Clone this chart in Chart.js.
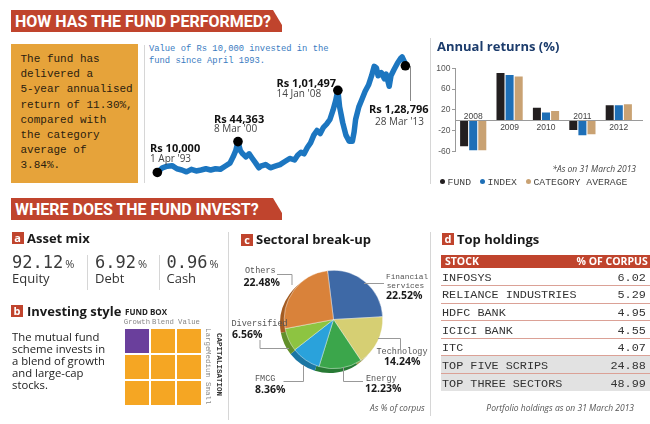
<!DOCTYPE html>
<html><head><meta charset="utf-8">
<script src="https://cdn.jsdelivr.net/npm/chart.js@4.4.1/dist/chart.umd.min.js"></script>
<style>
*{box-sizing:border-box}
html,body{margin:0;padding:0;background:#fff;width:650px;height:424px;overflow:hidden}
#root{position:relative;width:650px;height:424px;font-family:"Open Sans",sans-serif;color:#222}
.a{position:absolute;white-space:nowrap}
.banner{position:absolute;left:11px;width:271px;height:22px;background:#c0442d;clip-path:polygon(0 0,262px 0,271px 15px,271px 22px,0 22px);color:#fff;font-family:Roboto,sans-serif;font-weight:700;font-size:16px;line-height:23px;padding-left:4px}
.vl{position:absolute;width:1px;background:#d6d6d6}
.icon{position:absolute;width:12px;height:12px;background:#c0442d;color:#fff;font:bold 11px/11px "Open Sans",sans-serif;text-align:center}
.h{position:absolute;font-weight:700;font-size:13px;line-height:16px;color:#1a1a1a;white-space:nowrap}
.mono{font-family:"Liberation Mono",monospace}
.rs{font:bold 11px/12px "Open Sans",sans-serif;color:#111}
.dt{font:10px/12px "Open Sans",sans-serif;color:#444}
.pl{font-family:"Liberation Mono",monospace;font-size:8.5px;line-height:11px;color:#555}
.pp{font:bold 10.5px/11px "Open Sans",sans-serif;color:#1a1a1a}
canvas{position:absolute}
table{border-collapse:collapse}
</style></head>
<body><div id="root">

<div class="banner" style="top:10px">HOW HAS THE FUND PERFORMED?</div>
<div class="banner" style="top:198px">WHERE DOES THE FUND INVEST?</div>

<!-- top left box -->
<div class="a mono" style="left:11px;top:44px;width:127px;height:139px;background:#e6a33a;color:#2a200f;font-size:11px;line-height:15.2px;padding:8px 0 0 9.5px;white-space:normal">The fund has<br>delivered a<br>5-year annualised<br>return of 11.30%,<br>compared with<br>the category<br>average of<br>3.84%.</div>
<div class="vl" style="left:144px;top:45px;height:138px"></div>
<div class="vl" style="left:430px;top:38px;height:146px"></div>

<!-- line chart -->
<div class="a mono" style="left:149px;top:44px;font-size:8.8px;line-height:11.7px;color:#3a7bbf">Value of Rs 10,000 invested in the<br>fund since April 1993.</div>
<canvas id="cLine" width="267" height="145" style="left:148px;top:40px;width:267px;height:145px"></canvas>
<svg class="a" style="left:0;top:0" width="650" height="424"><line x1="410.5" y1="66" x2="410.5" y2="101" stroke="#888" stroke-width="1"/></svg>
<div class="a rs" style="left:150px;top:142px">Rs 10,000</div>
<div class="a dt" style="left:150px;top:152px">1 Apr '93</div>
<div class="a rs" style="left:214px;top:113px">Rs 44,363</div>
<div class="a dt" style="left:214px;top:122px">8 Mar '00</div>
<div class="a rs" style="left:276.5px;top:76.5px">Rs 1,01,497</div>
<div class="a dt" style="left:276.5px;top:87px">14 Jan '08</div>
<div class="a rs" style="left:369px;top:103px">Rs 1,28,796</div>
<div class="a dt" style="left:375px;top:114.5px">28 Mar '13</div>

<!-- annual returns -->
<div class="h" style="left:437px;top:38px;color:#1c3c6c">Annual returns (%)</div>
<canvas id="cBar" width="215" height="100" style="left:430px;top:58px;width:215px;height:100px"></canvas>
<div class="a" style="right:14px;top:163px;font:italic 8.5px/12px 'Open Sans',sans-serif;color:#444">*As on 31 March 2013</div>
<div class="a mono" id="legend" style="left:440px;top:177px;font-size:9.8px;line-height:12px;color:#444"></div>

<!-- asset mix -->
<div class="icon" style="left:11.5px;top:232px">a</div>
<div class="h" style="left:27px;top:230px">Asset mix</div>
<div id="assets"></div>
<div class="vl" style="left:87px;top:255px;height:35px"></div>
<div class="vl" style="left:159px;top:255px;height:35px"></div>
<div class="vl" style="left:228px;top:232px;height:188px"></div>
<div class="vl" style="left:430px;top:232px;height:184px"></div>

<!-- investing style -->
<div class="icon" style="left:11px;top:305px">b</div>
<div class="h" style="left:27px;top:303px">Investing style</div>
<div class="a" style="left:125px;top:306px;font:bold 8px/11px 'Open Sans',sans-serif;color:#222">FUND BOX</div>
<div class="a" style="left:12px;top:330.5px;font-size:11.3px;line-height:12.2px;color:#222">The mutual fund<br>scheme invests in<br>a blend of growth<br>and large-cap<br>stocks.</div>
<div id="fundbox"></div>

<!-- sectoral -->
<div class="icon" style="left:241px;top:233.5px">c</div>
<div class="h" style="left:256px;top:231px">Sectoral break-up</div>
<canvas id="cPieS" width="103" height="103" style="left:278px;top:272px;width:103px;height:103px"></canvas>
<canvas id="cPie" width="103" height="103" style="left:282px;top:268px;width:103px;height:103px"></canvas>
<svg class="a" style="left:0;top:0" width="650" height="424" fill="none" stroke="#999" stroke-width="1">
<polyline points="277,274.5 292,274.5 292,285"/>
<polyline points="364,283.5 384,283.5"/>
<polyline points="260,340 260,348.5 289,348.5"/>
<polyline points="378,338.5 400.5,338.5 400.5,349"/>
<polyline points="343.5,367 343.5,381.5 363,381.5"/>
<polyline points="283.5,381.5 303.5,381.5 303.5,365"/>
</svg>
<div class="a pl" style="left:245px;top:266.2px">Others</div>
<div class="a pp" style="left:243.5px;top:276.8px">22.48%</div>
<div class="a pl" style="left:386px;top:271.8px;font-size:7.8px">Financial</div>
<div class="a pl" style="left:386.7px;top:280.5px;font-size:7.8px">services</div>
<div class="a pp" style="left:386px;top:289.5px">22.52%</div>
<div class="a pl" style="left:231.5px;top:318.8px">Diversified</div>
<div class="a pp" style="left:232px;top:328.8px">6.56%</div>
<div class="a pl" style="left:376.5px;top:347.2px">Technology</div>
<div class="a pp" style="left:384px;top:356.2px">14.24%</div>
<div class="a pl" style="left:366px;top:373.5px">Energy</div>
<div class="a pp" style="left:365px;top:382.8px">12.23%</div>
<div class="a pl" style="left:255px;top:373.5px">FMCG</div>
<div class="a pp" style="left:255px;top:383.5px">8.36%</div>
<div class="a" style="left:370px;top:401.7px;font:italic 8.5px/12px 'Open Sans',sans-serif;color:#555">As % of corpus</div>

<!-- holdings -->
<div class="icon" style="left:442px;top:232.5px">d</div>
<div class="h" style="left:457px;top:230.5px">Top holdings</div>
<div id="holdings" class="a" style="left:441px;top:255px;width:195px"></div>
<div class="a" style="right:16px;top:401.7px;font:italic 8.5px/12px 'Open Sans',sans-serif;color:#555">Portfolio holdings as on 31 March 2013</div>

</div>
<script>
// ---------- DATA ----------
// Value of Rs 10,000 invested (time in decimal years, value in Rs)
const perfYears = [1993.25,1993.66,1994.05,1994.44,1994.83,1995.22,1995.60,1995.99,1996.38,1996.77,1997.16,1997.55,1997.94,1998.32,1998.71,1999.10,1999.36,1999.57,1999.75,1999.94,2000.13,2000.40,2000.65,2000.91,2001.18,2001.43,2001.59,2001.98,2002.36,2002.75,2003.14,2003.53,2003.92,2004.31,2004.56,2004.83,2005.08,2005.34,2005.60,2005.86,2006.12,2006.38,2006.64,2006.89,2007.16,2007.41,2007.62,2007.80,2007.94,2008.19,2008.45,2008.71,2008.97,2009.11,2009.23,2009.49,2009.75,2010.00,2010.27,2010.52,2010.73,2010.91,2011.04,2011.30,2011.55,2011.69,2011.94,2012.08,2012.33,2012.60,2012.85,2012.98,2013.16,2013.24];
const perfValues = [10000,15200,17000,17600,14100,12800,10700,13500,11700,12800,14100,12800,14100,13500,17000,20400,27400,34300,44363,34300,30800,27400,30800,25600,20400,15200,17000,18800,15200,17000,18800,22200,25600,23900,29100,32500,30800,37800,43000,51600,56800,53400,60300,63800,69000,79400,89800,101497,83100,65500,51600,44700,44700,55100,69000,83100,91800,100400,107400,117800,128200,126400,117800,121300,114300,119500,106000,117800,124700,131700,136900,138700,133500,128796];
const markYears = [1993.25,1999.75,2007.80,2013.24];
const markValues = [10000,44363,101497,128796];

// Annual returns (%)
const retYears = ['2008','2009','2010','2011','2012'];
const fundRet = [-50,91,24,-19,29];
const indexRet = [-58,87,15,-29,29];
const catRet = [-58,84,18,-27,31];
const retSeries = ['FUND','INDEX','CATEGORY AVERAGE'];

// Asset mix
const assetNames = ['Equity','Debt','Cash'];
const assetPct = ['92.12','6.92','0.96'];

// Sectoral break-up
const sectors = ['Financial services','Technology','Energy','FMCG','Diversified','Others'];
const sectorPct = [22.52,14.24,12.23,8.36,6.56,22.48];

// Top holdings
const stocks = ['INFOSYS','RELIANCE INDUSTRIES','HDFC BANK','ICICI BANK','ITC'];
const stockPct = ['6.02','5.29','4.95','4.55','4.07'];
const summaryNames = ['TOP FIVE SCRIPS','TOP THREE SECTORS'];
const summaryPct = ['24.88','48.99'];

// Fund box
const styleCols = ['Growth','Blend','Value'];
const capRows = ['Large','Medium','Small'];
const fundStyle = {row:0, col:0};

// ---------- STYLES ----------
const seriesColors = ['#231f20','#1e6fb7','#c9a273'];
const sectorColors = ['#3e69a6','#d6cf73','#3ba64b','#2aa2db','#8dc441','#d9823a'];
const sectorShade  = ['#2a4a78','#9f9850','#287a35','#1b76a3','#62902b','#a45c22'];

// ---------- LINE CHART ----------
new Chart(document.getElementById('cLine'), {
  type:'line',
  data:{datasets:[
    {type:'scatter', data:markYears.map((x,i)=>({x, y:markValues[i]})), backgroundColor:'#000', borderWidth:0, pointRadius:4.8, clip:false, order:0},
    {data:perfYears.map((x,i)=>({x, y:perfValues[i]})), borderColor:'#1c76c0', borderWidth:5.5, pointRadius:0, tension:0, borderJoinStyle:'round', borderCapStyle:'round', clip:false, order:1}
  ]},
  options:{responsive:false, animation:false, events:[], layout:{padding:0},
    plugins:{legend:{display:false}, tooltip:{enabled:false}},
    scales:{x:{type:'linear', display:false, min:1992.885, max:2013.63}, y:{display:false, min:1400, max:152200}}}
});

// ---------- BAR CHART ----------
const barDeco = {id:'barDeco', afterDatasetsDraw(chart){
  const {ctx, chartArea:a, scales:{x, y}} = chart;
  const y0 = Math.round(y.getPixelForValue(0)) + 0.5;
  ctx.save();
  ctx.strokeStyle = '#9a9a9a'; ctx.lineWidth = 1;
  ctx.beginPath(); ctx.moveTo(a.left, y0); ctx.lineTo(a.right + 6, y0); ctx.stroke();
  ctx.font = '8.5px "Liberation Sans", Arial, sans-serif'; ctx.fillStyle = '#444';
  ctx.textAlign = 'center'; ctx.textBaseline = 'middle';
  retYears.forEach((lab, i) => {
    const cx = x.getPixelForValue(i);
    ctx.fillText(lab, cx, fundRet[i] < 0 ? y0 - 4 : y0 + 7.5);
  });
  ctx.restore();
}};
new Chart(document.getElementById('cBar'), {
  type:'bar',
  data:{labels:retYears, datasets:[fundRet, indexRet, catRet].map((d,i)=>({label:retSeries[i], data:d, backgroundColor:seriesColors[i], categoryPercentage:0.75, barPercentage:0.88}))},
  options:{responsive:false, animation:false, events:[],
    layout:{padding:{top:10.3, bottom:6.3, right:8, left:0}},
    plugins:{legend:{display:false}, tooltip:{enabled:false}},
    scales:{
      x:{display:false},
      y:{min:-60, max:100, afterFit(s){ s.width = 25; },
        ticks:{stepSize:20, padding:1.5, color:'#555', font:{family:'"Liberation Sans", Arial', size:8.5}},
        grid:{drawOnChartArea:false, tickLength:3, color:'#999'},
        border:{color:'#999'}}
    }},
  plugins:[barDeco]
});
document.getElementById('legend').innerHTML = retSeries.map((s,i)=>
  `<span style="display:inline-block;width:5px;height:5px;border-radius:50%;background:${seriesColors[i]};vertical-align:1px;margin-right:2.5px"></span>${s}`).join('<span style="display:inline-block;width:9px"></span>');

// ---------- ASSET MIX ----------
const assetLeft = [12, 95, 166.5];
document.getElementById('assets').innerHTML = assetNames.map((n,i)=>
  `<div class="a" style="left:${assetLeft[i]}px;top:251px;font:17px/22px 'DejaVu Sans Mono',monospace;color:#3a3a3a">${assetPct[i]}<span style="font:11px 'Open Sans',sans-serif;margin-left:2px">%</span></div>
   <div class="a" style="left:${assetLeft[i]}px;top:269px;font:13px/18px 'Open Sans',sans-serif;color:#333">${n}</div>`).join('');

// ---------- FUND BOX ----------
let fb = '';
styleCols.forEach((c,j)=>{ fb += `<div class="a mono" style="left:${125+j*26-6}px;width:36px;text-align:center;top:317px;font-size:7.3px;line-height:10px;color:#888">${c}</div>`; });
capRows.forEach((r,i)=>{ styleCols.forEach((c,j)=>{
  const on = (i===fundStyle.row && j===fundStyle.col);
  fb += `<div class="a" style="left:${125+j*26}px;top:${329+i*26}px;width:24px;height:24px;background:${on?'#6a3f9c':'#f5a623'}"></div>`;
});});
const capTop = [328, 350, 382];
capRows.forEach((r,i)=>{ fb += `<div class="a mono" style="left:202.5px;top:${capTop[i]}px;writing-mode:vertical-rl;font-size:7.5px;line-height:9px;color:#888">${r}</div>`; });
fb += `<div class="a mono" style="left:213.5px;top:333px;writing-mode:vertical-rl;font-size:7.5px;line-height:9px;font-weight:bold;color:#333">CAPITALISATION</div>`;
document.getElementById('fundbox').innerHTML = fb;

// ---------- PIE ----------
function makePie(id, colors, border){
  new Chart(document.getElementById(id), {
    type:'pie',
    data:{labels:sectors, datasets:[{data:sectorPct, backgroundColor:colors, borderWidth:border, borderColor:'rgba(255,255,255,0.7)'}]},
    options:{responsive:false, animation:false, events:[], rotation:-7, layout:{padding:2},
      plugins:{legend:{display:false}, tooltip:{enabled:false}}}
  });
}
makePie('cPieS', sectorShade, 0);
makePie('cPie', sectorColors, 0.6);

// ---------- HOLDINGS TABLE ----------
let t = `<table style="width:195px;font-family:'Liberation Mono',monospace;font-size:11.8px;color:#333">
<tr style="background:#c0442d;color:#fff;font:bold 10.5px 'Open Sans',sans-serif;height:13px"><td style="padding:0 0 0 4px;line-height:13px">STOCK</td><td style="text-align:right;padding:0 3px 0 0;line-height:13px">% OF CORPUS</td></tr>`;
stocks.forEach((s,i)=>{ t += `<tr style="height:17.6px;border-bottom:1px solid #dba196"><td style="padding:2px 0 0 1px">${s}</td><td style="text-align:right;padding:2px 5px 0 0">${stockPct[i]}</td></tr>`; });
summaryNames.forEach((s,i)=>{ t += `<tr style="height:17.6px;background:#e2e2e2;${i===0?'border-bottom:1px solid #dba196':''}"><td style="padding:2px 0 0 1px">${s}</td><td style="text-align:right;padding:2px 5px 0 0">${summaryPct[i]}</td></tr>`; });
t += '</table>';
document.getElementById('holdings').innerHTML = t;
</script>
</body></html>
